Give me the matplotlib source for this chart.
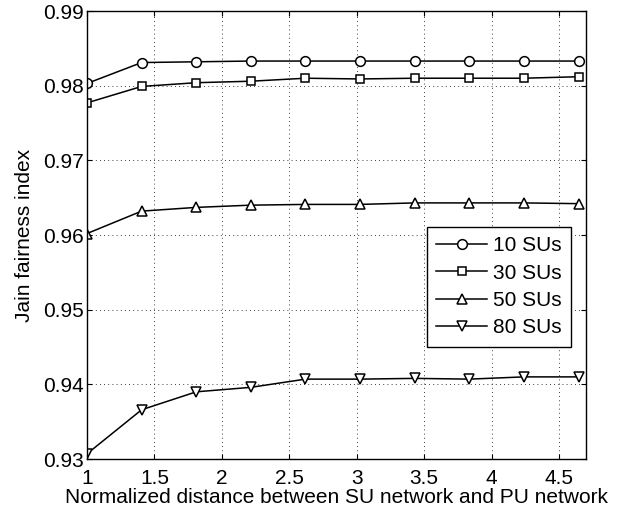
import matplotlib
matplotlib.use("Agg")
import matplotlib.pyplot as plt

plt.rcParams['font.family'] = ['Liberation Sans', 'DejaVu Sans']

# %% Data
distance = [1.0, 1.405, 1.81, 2.215, 2.62, 3.025, 3.43, 3.835, 4.24, 4.645]
su10 = [0.9803, 0.9831, 0.9832, 0.9833, 0.9833, 0.9833, 0.9833, 0.9833, 0.9833, 0.9833]
su30 = [0.9777, 0.9799, 0.9804, 0.9806, 0.9810, 0.9809, 0.9810, 0.9810, 0.9810, 0.9812]
su50 = [0.9602, 0.9632, 0.9637, 0.9640, 0.9641, 0.9641, 0.9643, 0.9643, 0.9643, 0.9642]
su80 = [0.9307, 0.9366, 0.9390, 0.9396, 0.9407, 0.9407, 0.9408, 0.9407, 0.9410, 0.9410]
labels = ["10 SUs", "30 SUs", "50 SUs", "80 SUs"]
markers = ["o", "s", "^", "v"]

# %% Plot
fig = plt.figure(figsize=(6.27, 5.15), dpi=100)
ax = fig.add_axes([0.1388, 0.1087, 0.7958, 0.8699])
for ys, lab, mk in zip([su10, su30, su50, su80], labels, markers):
    ax.plot(distance, ys, color='k', lw=1.1, marker=mk, ms=7 if mk != 's' else 6,
            mfc='white', mec='k', mew=1.1, label=lab)

ax.set_xlim(1, 4.7)
ax.set_ylim(0.93, 0.99)
ax.set_xticks([1, 1.5, 2, 2.5, 3, 3.5, 4, 4.5])
ax.set_xticklabels(["1", "1.5", "2", "2.5", "3", "3.5", "4", "4.5"])
ax.set_yticks([0.93, 0.94, 0.95, 0.96, 0.97, 0.98, 0.99])
ax.grid(True, color='k', ls=(0, (1, 4)), lw=0.6)
ax.tick_params(direction='in', top=True, right=True, labelsize=15, pad=2)
ax.tick_params(axis='x', pad=7)
for s in ax.spines.values():
    s.set_linewidth(1.0)
ax.set_xlabel("Normalized distance between SU network and PU network", fontsize=15, labelpad=0)
ax.set_ylabel("Jain fairness index", fontsize=15, labelpad=7)

leg = ax.legend(loc='upper left', bbox_to_anchor=(0.681, 0.518), fontsize=15,
                fancybox=False, framealpha=1, edgecolor='k', handlelength=2.45,
                borderpad=0.45, borderaxespad=0, labelspacing=0.4, handletextpad=0.3)
leg.get_frame().set_linewidth(1.0)

fig.savefig("out.png", dpi=100)
